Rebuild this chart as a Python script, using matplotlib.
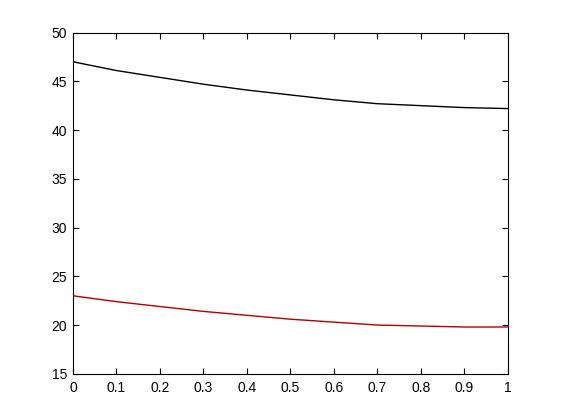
import matplotlib
matplotlib.use('Agg')
import matplotlib.pyplot as plt

# valores
x = [0.0, 0.1, 0.2, 0.3, 0.4, 0.5, 0.6, 0.7, 0.8, 0.9, 1.0]
serie_preta = [47.0, 46.1, 45.4, 44.7, 44.1, 43.6, 43.1, 42.7, 42.5, 42.3, 42.2]
serie_vermelha = [23.0, 22.4, 21.9, 21.4, 21.0, 20.6, 20.3, 20.0, 19.9, 19.8, 19.8]

plt.rcParams['font.family'] = ['Liberation Sans', 'DejaVu Sans']

fig = plt.figure(figsize=(5.61, 4.20), dpi=100)
ax = fig.add_axes([0.13, 0.11, 0.775, 0.8126])
ax.plot(x, serie_preta, color='black', linewidth=1)
ax.plot(x, serie_vermelha, color='#b00000', linewidth=1)

ax.set_xlim(0, 1)
ax.set_ylim(15, 50)
ax.set_xticks([0, 0.1, 0.2, 0.3, 0.4, 0.5, 0.6, 0.7, 0.8, 0.9, 1])
ax.set_xticklabels(['0', '0.1', '0.2', '0.3', '0.4', '0.5', '0.6', '0.7', '0.8', '0.9', '1'])
ax.set_yticks([15, 20, 25, 30, 35, 40, 45, 50])
ax.tick_params(direction='in', top=True, right=True, labelsize=10, length=4, width=0.8)
ax.tick_params(axis='x', pad=5)
ax.tick_params(axis='y', pad=4)
for s in ax.spines.values():
    s.set_linewidth(0.8)

plt.savefig('out.png', dpi=100)
